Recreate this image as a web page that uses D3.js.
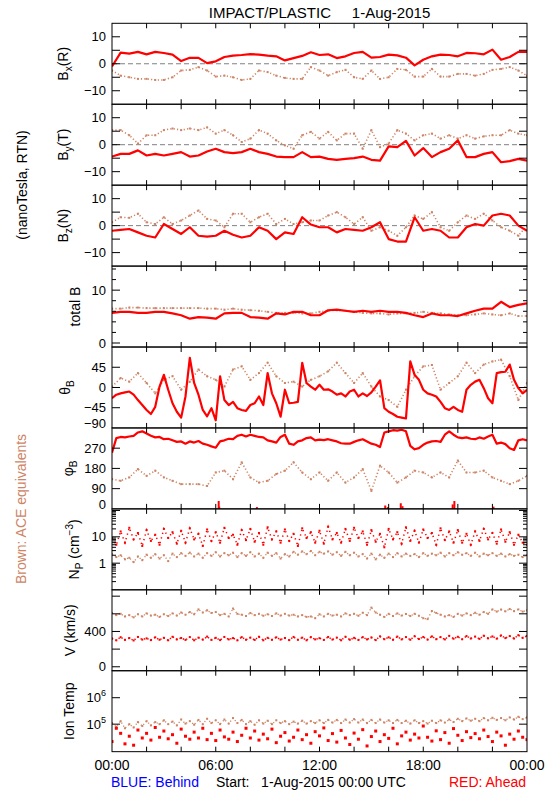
<!DOCTYPE html>
<html><head><meta charset="utf-8">
<script src="https://cdn.jsdelivr.net/npm/d3@7"></script>
<style>
body{margin:0;background:#fff}
text{font-family:"Liberation Sans",Arial,sans-serif;white-space:pre}
</style></head><body><svg id="c" width="550" height="800"></svg>
<script>
// ---------- DATA ----------
const xTickLabels = ["00:00","06:00","12:00","18:00","00:00"];
const xTickHours  = [0,6,12,18,24];

// 30-minute samples (49 values, 00:00 .. 24:00)
const bxRed   = [-1,4.1,3.75,4.4,3.5,4.4,4,3.4,1,2.2,2.2,0.25,0.9,2.5,3,3.25,3.6,3.4,3,2.75,1.25,2.1,2.9,4.25,3.25,3.5,2.1,2.75,4,4.4,2.25,2.5,3.4,3.1,2.25,-0.6,1.5,2.75,3.4,3.25,2.75,4,3.9,3.5,5.25,1.5,2.5,4.4,4.4];
const bxBrown = [-2.5,-4.4,-5,-5.6,-5.6,-6,-6,-5,-2.5,-2.25,-1.25,-2.5,-4.75,-4.4,-5,-6,-5.6,-2.5,-3.1,-4.4,-5.25,-5.6,-5.6,-1.25,-2.5,-4.4,-3.1,-2.25,-5,-5.6,-2.5,-5.6,-5,-1.9,-2.25,-4.75,-4.75,-1.9,-4.75,-4.75,-3.75,-3.75,-4.4,-3.75,-2.25,-1.9,-1.25,-2.5,-4.4];
const byRed   = [-4.4,-3.4,-3.4,-2.1,-4,-3.4,-4,-3.4,-2.75,-4.4,-4,-2.5,-1.5,-2.75,-3.1,-2.75,-1.5,-2.75,-3.4,-4.4,-4.6,-4.6,-2.75,-4.6,-4.4,-5.25,-5.6,-5.25,-5,-4.4,-5.6,-5.9,-0.6,-0.9,1.4,-4,-1.25,-4.6,-2.75,-1.5,1.6,-4.6,-4.6,-3.4,-2.75,-6.5,-6.1,-5.25,-5.9];
const byBrown = [5.4,5.4,3.5,0.4,3.5,3.5,5.4,6,5.4,6,5.4,6.4,4.1,5.4,3.5,1,2.25,5.4,4.1,1.6,-0.25,-1.5,3.5,4.75,2.25,4.75,1.6,4.1,4.1,-1.5,5.4,-0.9,0.4,5.4,4.1,1.6,3.5,4.1,2.25,3.5,2.25,3.5,2.25,3.1,3.5,3.5,5.4,4.1,3.5];
const bzRed   = [-1.9,-1.6,-1.25,-2.5,-3.75,-4.4,0.6,-1.25,-3.1,-0.6,-3.75,-4.1,-3.75,-1.9,-3.4,-4.4,-3.75,-0.6,-1.9,-5,-2.5,-3.1,3.1,0.4,-0.6,-0.6,-2.5,-1.25,-1.6,-1.9,-0.6,1.25,-5,-5.9,-5.9,3.1,-1.9,-1.25,-1.9,-4.4,-4.4,-0.6,0.6,0,3.75,4.4,3.75,0,-1.9];
const bzBrown = [1.25,3.1,2.9,4.4,1.25,0.6,3.1,0.6,1.9,3.75,5.6,2.5,1.9,-0.6,4.4,4.4,1.25,3.1,4.4,0.6,2.5,0.6,1.25,1.9,1.9,3.75,5,3.1,0.6,3.1,-1.9,-0.6,-1.9,-3.75,-0.6,3.75,2.5,5,-0.6,-1.9,1.25,3.75,2.5,4.4,1.9,-0.6,-1.9,-3.75,0];
const btRed   = [5.7,5.9,5.9,5.7,5.7,5.9,5.9,5.6,5.25,4.6,4.9,4.8,4.6,5.6,5.7,5.7,4.9,4.8,4.6,5.6,5.4,5.9,5.9,5.25,5.25,6.2,6.3,6.1,5.9,6.1,5.9,6.1,5.9,5.9,5.7,5.25,4.9,5.6,5.25,5.25,5.1,5.6,6.1,6.5,6.5,7.8,6.8,7.2,7.5];
const btBrown = [6.5,6.5,6.7,6.7,6.6,6.6,6.6,6.6,6.6,6.6,6.6,6.5,6.5,6.3,6.5,6.3,6.2,6.1,5.9,5.7,5.7,5.7,5.6,5.6,5.9,6.1,6.2,6.1,5.9,5.7,5.6,5.6,5.4,5.6,5.6,5.7,5.9,5.7,5.6,5.4,5.25,5.25,5.4,5.6,5.4,5.25,5.6,5.1,5.1];
const thBrown = [2,21,13,32,10,-13,17,25,-5,13,40,25,17,2,40,47,17,32,55,25,10,13,2,17,25,36,55,32,10,32,2,-20,-28,-43,-5,25,47,50,-5,10,25,55,32,51,58,62,25,-28,10];
const phBrown = [132,125,140,177,147,170,140,125,110,110,110,102,162,170,132,207,140,117,125,155,170,207,162,132,162,125,162,117,140,177,80,192,162,117,140,170,162,140,162,140,215,162,162,170,140,125,110,125,147];

// 15-minute samples (97 values)
const thRed = [-24,-16,-13,-11,-9,-16,-28,-39,-50,-59,-43,2,28,-5,-35,-54,-67,-20,66,10,-16,-50,-64,-46,-73,25,-28,-39,-32,-46,
  -50,-52,-39,-35,-20,-39,32,-13,-35,-65,-5,-35,-34,-32,55,10,2,-5,6,-5,-4,-9,-16,-13,-20,-9,-5,-20,-13,-19,
  -11,2,16,-46,-54,-59,-65,-67,-69,58,28,17,-5,-13,-16,-20,-32,-46,-50,-43,-50,-54,-5,6,13,17,-1.5,-24,-35,32,
  34,35,51,17,-1.5,-13,-5];
const phRed = [250,315,320,318,322,325,340,345,335,325,318,320,310,312,305,298,300,290,300,295,302,290,285,278,272,300,305,312,310,325,
  330,322,330,325,320,318,305,300,295,320,330,290,285,300,305,315,318,305,308,306,310,305,300,292,290,290,298,305,310,300,
  290,285,275,340,345,350,348,352,345,280,265,270,285,295,300,302,298,330,345,330,318,315,318,312,310,318,312,322,330,290,
  295,288,270,262,305,310,305];
// phi values of Ahead that wrapped through 360 -> near 0
const phWrapHours = [6.17,6.2,8.38,15.8,15.95,16.7,16.8,19.7,19.8,22.06];
const phWrapVals  = [35,10,8,15,8,25,12,20,35,10];

const npRed = [9,5,16,6, 22,8,14,4.5, 18,7,12,5, 20,9,15,5.5, 17,6,21,8, 13,4.5,19,7, 15,6,22,9, 12,5,18,7.5,
  20,6.5,14,5, 23,8,16,6, 19,7,13,4.5, 21,9,15,6, 17,5.5,24,8, 14,6,20,7, 22,9,16,5, 18,6.5,13,4,
  20,8,15,5.5, 23,7,17,6, 19,9,14,5, 21,7.5,16,6, 18,6,13,5, 16,7,20,8, 14,5.5,19,6.5, 15,5,12,6, 5];
const npBrown = [2.2,1.7,2.0,1.4, 1.6,1.1,1.8,1.3, 2.1,1.6,2.2,1.5, 2.0,1.2,2.3,1.7, 2.4,1.9,2.5,1.8, 2.3,1.6,2.4,1.9,
  2.6,1.8,2.4,2.0, 2.5,1.7,2.4,1.9, 2.6,1.8,2.3,1.6, 2.5,1.9,2.4,1.5, 2.2,1.8,2.7,2.1, 2.8,2.2,2.9,2.0,
  2.7,2.3,2.8,2.1, 2.6,1.9,2.7,2.0, 2.5,1.8,2.2,1.5, 2.3,1.4,2.1,1.6, 2.3,1.7,2.4,1.8, 2.3,1.9,2.2,1.7,
  2.4,1.9,2.3,2.0, 2.5,1.8,2.4,2.0, 2.6,2.1,2.4,1.9, 2.5,1.8,2.3,2.0, 2.4,1.9,2.3,1.8, 2.2,1.9,2.1,1.7, 2.0];
const vRed = [320,300,335,305, 325,298,338,308, 322,302,334,306, 328,300,340,310, 326,304,336,300, 330,308,342,305,
  328,302,338,310, 325,300,336,306, 330,304,340,300, 328,306,334,308, 326,302,338,306, 330,300,336,310,
  324,304,338,308, 330,300,340,306, 328,304,336,310, 332,302,345,312, 334,306,342,310, 336,306,346,314,
  338,308,344,312, 336,310,350,318, 340,312,348,320, 342,316,352,322, 344,318,355,325, 348,320,358,328, 350];
const vBrown = [610,585,600,570, 585,560,595,570, 605,580,590,565, 595,575,605,580, 615,590,620,595, 650,615,640,610,
  620,585,600,570, 660,600,590,575, 610,585,600,578, 595,575,605,580, 600,580,590,570, 585,565,570,550,
  595,570,600,580, 590,570,605,585, 600,578,612,585, 670,615,590,565, 600,575,605,580, 598,575,600,578,
  550,540,632,610, 590,570,585,565, 600,580,605,585, 612,590,620,600, 650,625,648,628, 655,630,650,625, 640];
const tRed = [2.2e4,7e4,4.5e4,1.8e4, 3.5e4,1.6e4,6e4,3e4, 4.5e4,2.5e4,7.5e4,3.2e4, 5.5e4,2.8e4,4e4,1.9e4,
  6.5e4,3.5e4,2.7e4,5e4, 3e4,7e4,2.6e4,4.5e4, 2.4e4,6e4,3.3e4,2.7e4, 5e4,2.2e4,3.8e4,7e4,
  3e4,5.5e4,2.5e4,4.2e4, 2.8e4,6.5e4,2e4,3.5e4, 4.8e4,2.3e4,3.2e4,6e4, 2.6e4,4e4,1.9e4,5.2e4,
  3.6e4,7.2e4,2.4e4,4.4e4, 2.1e4,5.8e4,3e4,1.7e4, 4.6e4,2.7e4,6.2e4,1.5e4, 3.4e4,5.5e4,2.2e4,4e4,
  2.9e4,7e4,1.8e4,3.6e4, 5e4,2.5e4,4.2e4,3e4, 8.5e4,3.2e4,2.3e4,5.6e4, 2.6e4,4.8e4,1.9e4,6.8e4,
  3.8e4,2.4e4,5.2e4,3.1e4, 4.4e4,2.8e4,6e4,3.4e4, 2.2e4,5e4,3.6e4,1.6e4, 4.2e4,2.7e4,5.5e4,3.2e4, 2.6e4];
const tBrown = [1.1e5,8e4,1.3e5,7e4, 1.0e5,7.5e4,1.2e5,8.5e4, 1.3e5,9e4,1.2e5,1.0e5, 1.4e5,1.0e5,1.25e5,9e4,
  1.5e5,1.05e5,1.3e5,9.5e4, 1.45e5,1.0e5,1.6e5,1.1e5, 1.4e5,1.0e5,1.5e5,1.05e5, 1.7e5,1.1e5,1.45e5,1.0e5,
  1.3e5,9.5e4,1.4e5,1.05e5, 1.35e5,1.0e5,1.4e5,1.1e5, 1.3e5,1.0e5,1.25e5,1.05e5, 1.35e5,1.05e5,1.3e5,1.1e5,
  1.4e5,1.1e5,1.45e5,1.15e5, 1.45e5,1.1e5,1.5e5,1.15e5, 1.55e5,1.15e5,1.5e5,1.1e5, 1.45e5,1.1e5,1.5e5,1.15e5,
  1.4e5,1.1e5,1.45e5,1.1e5, 1.35e5,1.05e5,1.4e5,1.1e5, 1.3e5,1.05e5,1.35e5,1.1e5, 1.4e5,1.15e5,1.5e5,1.2e5,
  1.6e5,1.3e5,1.65e5,1.35e5, 1.6e5,1.3e5,1.7e5,1.4e5, 1.75e5,1.45e5,1.7e5,1.4e5, 1.8e5,1.5e5,1.9e5,1.55e5, 1.8e5];

// ---------- LAYOUT ----------
const svg = d3.select('#c');
const X0 = 112, X1 = 527, TOP = 23.3, PH = 80.93;
const RED = '#ff0000', BROWN = '#cd8566', BLUE = '#0000ff';
const x = d3.scaleLinear().domain([0,24]).range([X0,X1]);
const grid = a => a.map((v,i)=>[24*i/(a.length-1), v]);

const panels = [
  {type:'lin', domain:[-15,15], ticks:[-10,-5,0,5,10], labels:[[-10,'−10'],[0,'0'],[10,'10']], zero:true,
   title:[['B'],['x','sub'],['(R)']], tx:68, red:bxRed, brown:bxBrown},
  {type:'lin', domain:[-15,15], ticks:[-10,-5,0,5,10], labels:[[-10,'−10'],[0,'0'],[10,'10']], zero:true,
   title:[['B'],['y','sub'],['(T)']], tx:68, red:byRed, brown:byBrown},
  {type:'lin', domain:[-15,15], ticks:[-10,-5,0,5,10], labels:[[-10,'−10'],[0,'0'],[10,'10']], zero:true,
   title:[['B'],['z','sub'],['(N)']], tx:68, red:bzRed, brown:bzBrown},
  {type:'lin', domain:[-0.76,14.55], ticks:[0,10], minor:[2,4,6,8,12,14], labels:[[0,'0'],[10,'10']],
   title:[['total B']], tx:80, red:btRed, brown:btBrown},
  {type:'lin', domain:[-90,90], ticks:[-45,0,45], labels:[[-90,'−90'],[-45,'−45'],[0,'0'],[45,'45']],
   title:[['θ'],['B','sub']], tx:70, red:thRed, brown:thBrown},
  {type:'lin', domain:[0,360], ticks:[90,180,270], labels:[[0,'0'],[90,'90'],[180,'180'],[270,'270']],
   title:[['φ'],['B','sub']], tx:73, red:phRed, brown:phBrown, wrap:true},
  {type:'log', domain:[Math.pow(10,-1.01), Math.pow(10,2.06)], ticks:[1,10,100], minorLog:true,
   labels:[[1,'1'],[10,'10']], title:[['N'],['P','sub'],[' (cm'],['−3','sup'],[')']], tx:79,
   scatterRed:npRed, scatterBrown:npBrown},
  {type:'lin', domain:[-45,872], ticks:[0,200,400,600,800], labels:[[0,'0'],[400,'400']],
   title:[['V (km/s)']], tx:75, scatterRed:vRed, scatterBrown:vBrown, redBand:true},
  {type:'log', domain:[Math.pow(10,3.96), Math.pow(10,7.02)], ticks:[1e5,1e6], labels:[[1e5,'10','5'],[1e6,'10','6']],
   title:[['Ion Temp']], tx:74, squaresRed:tRed, scatterBrown:tBrown},
];

const line = (y)=>d3.line().x(d=>x(d[0])).y(d=>y(d[1]));

panels.forEach((p,k)=>{
  const top = TOP + k*PH, bot = top + PH;
  const y = (p.type==='log'? d3.scaleLog() : d3.scaleLinear()).domain(p.domain).range([bot, top]);
  const g = svg.append('g');
  const cid = 'clip'+k;
  svg.append('clipPath').attr('id',cid).append('rect').attr('x',X0).attr('y',top).attr('width',X1-X0).attr('height',PH);
  const data = g.append('g').attr('clip-path',`url(#${cid})`);

  if (p.zero) {
    data.append('line').attr('x1',X0).attr('x2',X1).attr('y1',y(0)).attr('y2',y(0))
      .attr('stroke','#808080').attr('stroke-width',1).attr('stroke-dasharray','5,3');
  }
  if (p.brown) {
    data.append('path').datum(grid(p.brown)).attr('d',line(y)).attr('fill','none')
      .attr('stroke',BROWN).attr('stroke-width',1.6).attr('stroke-dasharray','1.2,2.2');
    data.selectAll(null).data(grid(p.brown)).enter().append('rect')
      .attr('x',d=>x(d[0])-1).attr('y',d=>y(d[1])-1).attr('width',2).attr('height',2).attr('fill',BROWN);
  }
  if (p.red) {
    data.append('path').datum(grid(p.red)).attr('d',line(y)).attr('fill','none')
      .attr('stroke',RED).attr('stroke-width',2.2).attr('stroke-linejoin','round');
  }
  if (p.wrap) {
    data.selectAll(null).data(phWrapHours.map((h,i)=>[h,phWrapVals[i]])).enter().append('line')
      .attr('x1',d=>x(d[0])).attr('x2',d=>x(d[0])).attr('y1',y(0)).attr('y2',d=>y(d[1]))
      .attr('stroke',RED).attr('stroke-width',2);
  }
  if (p.scatterBrown) {
    data.append('path').datum(grid(p.scatterBrown)).attr('d',line(y)).attr('fill','none')
      .attr('stroke',BROWN).attr('stroke-width',1.3).attr('stroke-dasharray','1.2,2.4');
    data.selectAll(null).data(grid(p.scatterBrown)).enter().append('rect')
      .attr('x',d=>x(d[0])-1).attr('y',d=>y(d[1])-1).attr('width',2).attr('height',2).attr('fill',BROWN);
  }
  if (p.scatterRed) {
    data.append('path').datum(grid(p.scatterRed)).attr('d',line(y)).attr('fill','none')
      .attr('stroke',RED).attr('stroke-width',1.5).attr('stroke-dasharray', p.redBand?'1.3,2.4':'1.3,3.4');
    data.selectAll(null).data(grid(p.scatterRed)).enter().append('rect')
      .attr('x',d=>x(d[0])-1).attr('y',d=>y(d[1])-1).attr('width',2).attr('height',2).attr('fill',RED);
  }
  if (p.squaresRed) {
    data.selectAll(null).data(grid(p.squaresRed)).enter().append('rect')
      .attr('x',d=>x(d[0])-1.5).attr('y',d=>y(d[1])-1.5).attr('width',3).attr('height',3).attr('fill',RED);
  }

  // frame
  g.append('rect').attr('x',X0).attr('y',top).attr('width',X1-X0).attr('height',PH)
    .attr('fill','none').attr('stroke','#000').attr('stroke-width',1);
  // x ticks every 2 hours, top and bottom, inward
  for (let h=2; h<24; h+=2) {
    g.append('line').attr('x1',x(h)).attr('x2',x(h)).attr('y1',top).attr('y2',top+5).attr('stroke','#000');
    g.append('line').attr('x1',x(h)).attr('x2',x(h)).attr('y1',bot).attr('y2',bot-5).attr('stroke','#000');
  }
  // y ticks
  const major = p.ticks.filter(v=>y(v)>top+0.5 && y(v)<bot-0.5);
  major.forEach(v=>{
    g.append('line').attr('x1',X0).attr('x2',X0+8).attr('y1',y(v)).attr('y2',y(v)).attr('stroke','#000');
    g.append('line').attr('x1',X1-8).attr('x2',X1).attr('y1',y(v)).attr('y2',y(v)).attr('stroke','#000');
  });
  let minor = p.minor ? p.minor.slice() : [];
  if (p.minorLog) {
    [0.1,1,10,100].forEach(dd=>{for(let m=2;m<10;m++) minor.push(dd*m);});
  }
  minor.filter(v=>y(v)>top+0.5 && y(v)<bot-0.5).forEach(v=>{
    g.append('line').attr('x1',X0).attr('x2',X0+4).attr('y1',y(v)).attr('y2',y(v)).attr('stroke','#000');
    g.append('line').attr('x1',X1-4).attr('x2',X1).attr('y1',y(v)).attr('y2',y(v)).attr('stroke','#000');
  });
  // tick labels
  p.labels.forEach(l=>{
    let yy = Math.min(y(l[0]), bot-4);
    const t = g.append('text').attr('x',106).attr('y',yy+4.5).attr('text-anchor','end')
      .attr('font-size',13).attr('fill','#000');
    t.append('tspan').text(l[1]);
    if (l[2]) t.append('tspan').attr('font-size',9).attr('dy',-6).text(l[2]);
  });
  // axis title (rotated)
  const yc = (top+bot)/2;
  const tt = g.append('text').attr('transform',`translate(${p.tx},${yc}) rotate(-90)`)
    .attr('text-anchor','middle').attr('font-size',14).attr('fill','#000');
  let shift = 0;
  p.title.forEach(part=>{
    const ts = tt.append('tspan').text(part[0]);
    if (part[1]==='sub') { ts.attr('font-size',10).attr('dy',4-shift); shift=4; }
    else if (part[1]==='sup') { ts.attr('font-size',10).attr('dy',-6-shift); shift=-6; }
    else { if (shift!==0) ts.attr('dy',-shift); shift=0; }
  });
});

// x-axis labels
const bottomY = TOP + 9*PH;
xTickHours.forEach((h,i)=>{
  svg.append('text').attr('x',x(h)).attr('y',bottomY+18).attr('text-anchor','middle')
    .attr('font-size',14).text(xTickLabels[i]);
});
// title
svg.append('text').attr('x',(X0+X1)/2).attr('y',18).attr('text-anchor','middle')
  .attr('font-size',15).text('IMPACT/PLASTIC     1-Aug-2015');
// left labels
svg.append('text').attr('transform',`translate(27,185) rotate(-90)`).attr('text-anchor','middle')
  .attr('font-size',14).text('(nanoTesla, RTN)');
svg.append('text').attr('transform',`translate(26,509) rotate(-90)`).attr('text-anchor','middle')
  .attr('font-size',14).attr('fill',BROWN).text('Brown: ACE equivalents');
// footer
svg.append('text').attr('x',111).attr('y',787).attr('font-size',14).attr('fill',BLUE).text('BLUE: Behind');
svg.append('text').attr('x',216).attr('y',787).attr('font-size',14).text('Start:   1-Aug-2015 00:00 UTC');
svg.append('text').attr('x',526).attr('y',787).attr('text-anchor','end').attr('font-size',14).attr('fill',RED).text('RED: Ahead');
</script></body></html>
